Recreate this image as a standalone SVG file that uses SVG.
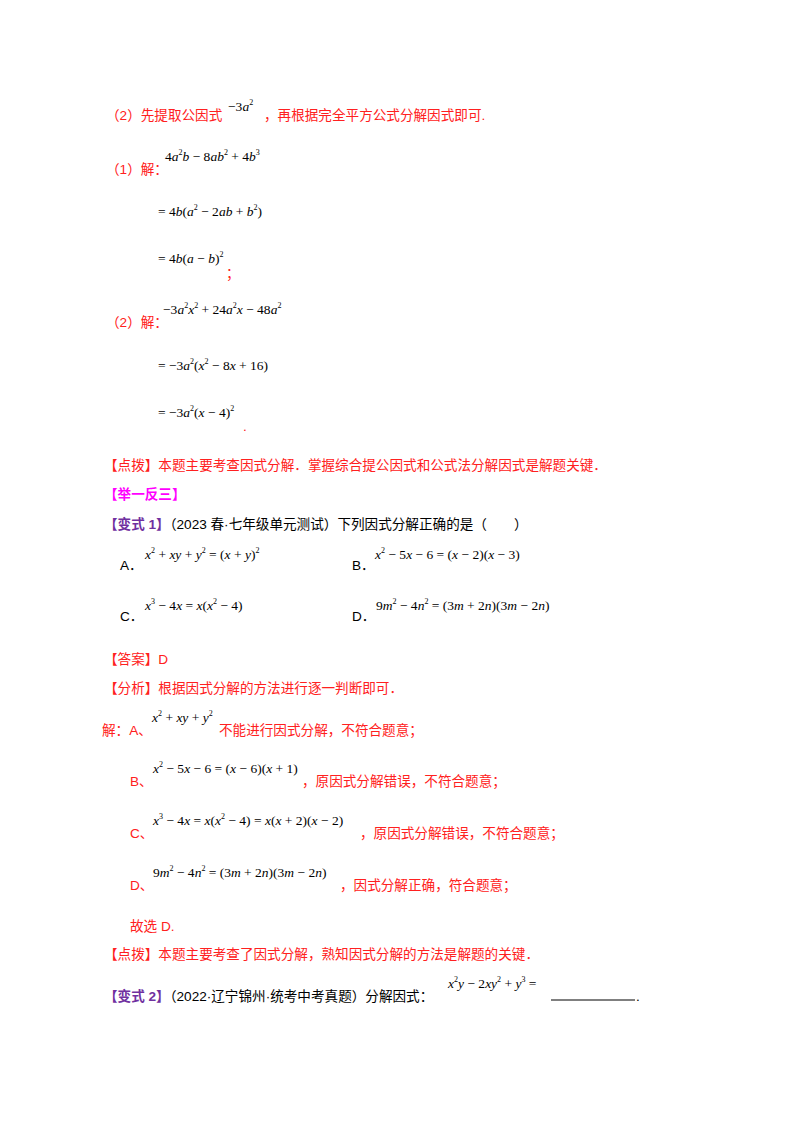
<svg xmlns="http://www.w3.org/2000/svg" width="800" height="1132" viewBox="0 0 800 1132">
<style>
.r{fill:#ff2020;font-family:"Liberation Sans","Noto Sans CJK SC",sans-serif;font-size:13.6px}
.k{fill:#000;font-family:"Liberation Sans","Noto Sans CJK SC",sans-serif;font-size:13.6px}
.pu{fill:#7030a0;font-family:"Liberation Sans","Noto Sans CJK SC",sans-serif;font-weight:bold}
.mg{fill:#ff00ff;font-family:"Liberation Sans","Noto Sans CJK SC",sans-serif;font-size:13.6px;font-weight:bold}
.m{fill:#000;font-family:"Liberation Serif",serif;font-size:13.5px}
.i{font-style:italic}
.s{font-size:8px}
</style>
<rect width="800" height="1132" fill="#fff"/>
<text class="r" x="106" y="120">（2）先提取公因式</text>
<text class="m" x="228" y="111">−3<tspan class="i">a</tspan><tspan class="s" dy="-6">2</tspan></text>
<text class="r" x="264" y="120">，再根据完全平方公式分解因式即可.</text>

<text class="r" x="106" y="174">（1）解：</text>
<text class="m" x="165" y="161">4<tspan class="i">a</tspan><tspan class="s" dy="-6">2</tspan><tspan class="i" dy="6">b</tspan> − 8<tspan class="i">ab</tspan><tspan class="s" dy="-6">2</tspan><tspan dy="6"> + 4</tspan><tspan class="i">b</tspan><tspan class="s" dy="-6">3</tspan></text>
<text class="m" x="158" y="216">= 4<tspan class="i">b</tspan>(<tspan class="i">a</tspan><tspan class="s" dy="-6">2</tspan><tspan dy="6"> − 2</tspan><tspan class="i">ab</tspan> + <tspan class="i">b</tspan><tspan class="s" dy="-6">2</tspan><tspan dy="6">)</tspan></text>
<text class="m" x="158" y="263">= 4<tspan class="i">b</tspan>(<tspan class="i">a</tspan> − <tspan class="i">b</tspan>)<tspan class="s" dy="-6">2</tspan></text>
<text class="r" x="226" y="278">；</text>

<text class="r" x="106" y="327">（2）解：</text>
<text class="m" x="163" y="314">−3<tspan class="i">a</tspan><tspan class="s" dy="-6">2</tspan><tspan class="i" dy="6">x</tspan><tspan class="s" dy="-6">2</tspan><tspan dy="6"> + 24</tspan><tspan class="i">a</tspan><tspan class="s" dy="-6">2</tspan><tspan class="i" dy="6">x</tspan> − 48<tspan class="i">a</tspan><tspan class="s" dy="-6">2</tspan></text>
<text class="m" x="158" y="370">= −3<tspan class="i">a</tspan><tspan class="s" dy="-6">2</tspan><tspan dy="6">(</tspan><tspan class="i">x</tspan><tspan class="s" dy="-6">2</tspan><tspan dy="6"> − 8</tspan><tspan class="i">x</tspan> + 16)</text>
<text class="m" x="158" y="417">= −3<tspan class="i">a</tspan><tspan class="s" dy="-6">2</tspan><tspan dy="6">(</tspan><tspan class="i">x</tspan> − 4)<tspan class="s" dy="-6">2</tspan></text>
<text class="r" x="243" y="431">.</text>

<text class="r" x="104" y="470">【点拨】本题主要考查因式分解．掌握综合提公因式和公式法分解因式是解题关键．</text>
<text class="mg" x="104" y="499">【举一反三】</text>
<text class="k" x="104" y="529"><tspan class="pu">【变式 1】</tspan>（2023 春·七年级单元测试）下列因式分解正确的是（　　）</text>

<text class="k" x="120" y="570">A．</text>
<text class="m" x="145" y="559"><tspan class="i">x</tspan><tspan class="s" dy="-6">2</tspan><tspan dy="6"> + </tspan><tspan class="i">xy</tspan> + <tspan class="i">y</tspan><tspan class="s" dy="-6">2</tspan><tspan dy="6"> = (</tspan><tspan class="i">x</tspan> + <tspan class="i">y</tspan>)<tspan class="s" dy="-6">2</tspan></text>
<text class="k" x="352" y="570">B．</text>
<text class="m" x="375" y="559"><tspan class="i">x</tspan><tspan class="s" dy="-6">2</tspan><tspan dy="6"> − 5</tspan><tspan class="i">x</tspan> − 6 = (<tspan class="i">x</tspan> − 2)(<tspan class="i">x</tspan> − 3)</text>
<text class="k" x="120" y="621">C．</text>
<text class="m" x="145" y="610"><tspan class="i">x</tspan><tspan class="s" dy="-6">3</tspan><tspan dy="6"> − 4</tspan><tspan class="i">x</tspan> = <tspan class="i">x</tspan>(<tspan class="i">x</tspan><tspan class="s" dy="-6">2</tspan><tspan dy="6"> − 4)</tspan></text>
<text class="k" x="352" y="621">D．</text>
<text class="m" x="376" y="610">9<tspan class="i">m</tspan><tspan class="s" dy="-6">2</tspan><tspan dy="6"> − 4</tspan><tspan class="i">n</tspan><tspan class="s" dy="-6">2</tspan><tspan dy="6"> = (3</tspan><tspan class="i">m</tspan> + 2<tspan class="i">n</tspan>)(3<tspan class="i">m</tspan> − 2<tspan class="i">n</tspan>)</text>

<text class="r" x="104" y="664">【答案】D</text>
<text class="r" x="104" y="693">【分析】根据因式分解的方法进行逐一判断即可．</text>
<text class="r" x="102" y="735">解：A、</text>
<text class="m" x="152" y="722"><tspan class="i">x</tspan><tspan class="s" dy="-6">2</tspan><tspan dy="6"> + </tspan><tspan class="i">xy</tspan> + <tspan class="i">y</tspan><tspan class="s" dy="-6">2</tspan></text>
<text class="r" x="219" y="735">不能进行因式分解，不符合题意；</text>
<text class="r" x="130" y="786">B、</text>
<text class="m" x="153" y="773"><tspan class="i">x</tspan><tspan class="s" dy="-6">2</tspan><tspan dy="6"> − 5</tspan><tspan class="i">x</tspan> − 6 = (<tspan class="i">x</tspan> − 6)(<tspan class="i">x</tspan> + 1)</text>
<text class="r" x="302" y="786">，原因式分解错误，不符合题意；</text>
<text class="r" x="130" y="838">C、</text>
<text class="m" x="153" y="825"><tspan class="i">x</tspan><tspan class="s" dy="-6">3</tspan><tspan dy="6"> − 4</tspan><tspan class="i">x</tspan> = <tspan class="i">x</tspan>(<tspan class="i">x</tspan><tspan class="s" dy="-6">2</tspan><tspan dy="6"> − 4) = </tspan><tspan class="i">x</tspan>(<tspan class="i">x</tspan> + 2)(<tspan class="i">x</tspan> − 2)</text>
<text class="r" x="360" y="838">，原因式分解错误，不符合题意；</text>
<text class="r" x="130" y="890">D、</text>
<text class="m" x="153" y="877">9<tspan class="i">m</tspan><tspan class="s" dy="-6">2</tspan><tspan dy="6"> − 4</tspan><tspan class="i">n</tspan><tspan class="s" dy="-6">2</tspan><tspan dy="6"> = (3</tspan><tspan class="i">m</tspan> + 2<tspan class="i">n</tspan>)(3<tspan class="i">m</tspan> − 2<tspan class="i">n</tspan>)</text>
<text class="r" x="340" y="890">，因式分解正确，符合题意；</text>
<text class="r" x="130" y="931">故选 D.</text>
<text class="r" x="104" y="959">【点拨】本题主要考查了因式分解，熟知因式分解的方法是解题的关键．</text>
<text class="k" x="104" y="1001"><tspan class="pu">【变式 2】</tspan>（2022·辽宁锦州·统考中考真题）分解因式：</text>
<text class="m" x="448" y="988"><tspan class="i">x</tspan><tspan class="s" dy="-6">2</tspan><tspan class="i" dy="6">y</tspan> − 2<tspan class="i">xy</tspan><tspan class="s" dy="-6">2</tspan><tspan dy="6"> + </tspan><tspan class="i">y</tspan><tspan class="s" dy="-6">3</tspan><tspan dy="6"> =</tspan></text>
<line x1="551" y1="1000" x2="635" y2="1000" stroke="#000" stroke-width="1"/>
<text class="k" x="636" y="1001">.</text>
</svg>
